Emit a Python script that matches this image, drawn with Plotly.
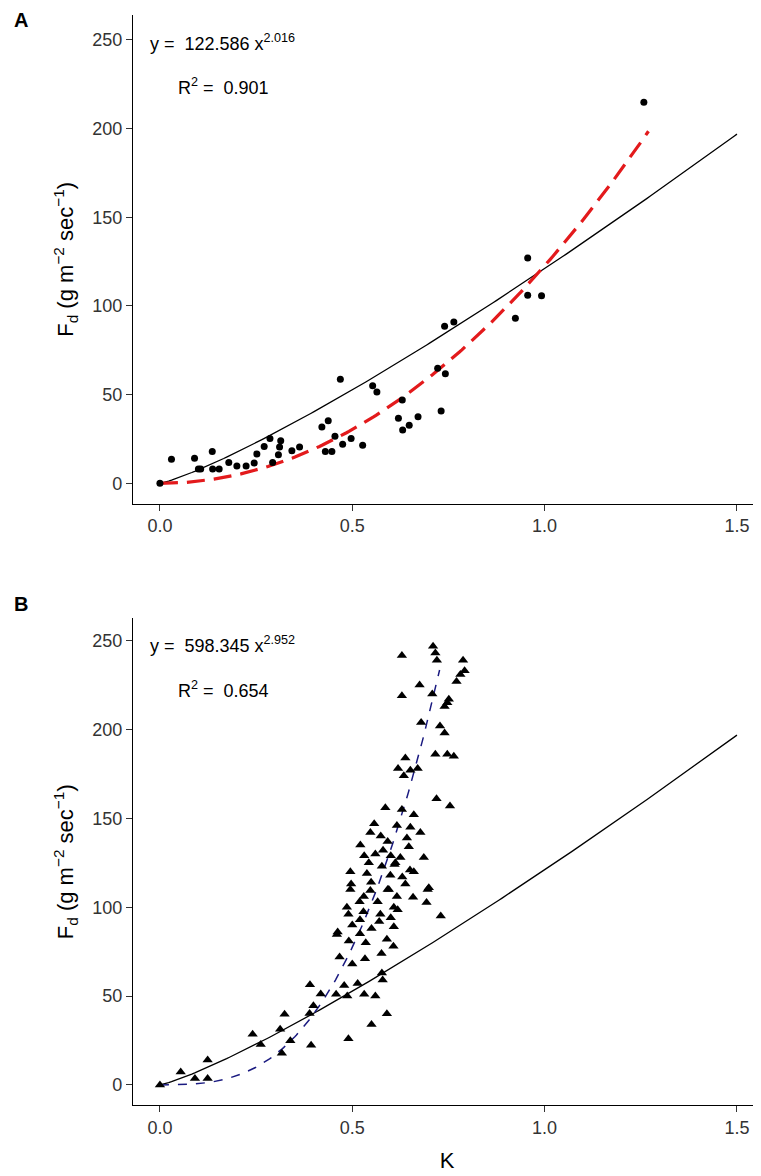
import numpy as np
import plotly.graph_objects as go
from plotly.subplots import make_subplots

# Panel A data
ka = [0,0.03,0.09,0.10,0.106,0.136,0.137,0.154,0.179,0.2,0.224,0.245,0.252,0.271,0.286,0.293,0.308,0.311,0.314,
      0.343,0.363,0.421,0.4375,0.43,0.447,0.455,0.469,0.475,0.497,0.527,0.553,0.564,0.62,0.63,0.631,0.648,0.671,
      0.722,0.731,0.742,0.74,0.764,0.924,0.956,0.956,0.992,1.258]
fa = [0,13.6,14.2,8.1,8.1,18,8.1,8.1,11.7,9.8,9.8,11.4,16.5,20.8,25.2,11.7,16.1,20.5,24,
      18.4,20.5,31.8,35.2,18,18,26.5,58.7,22,25.2,21.4,55,51.5,36.7,47,30,32.8,37.5,
      64.8,40.7,61.8,88.5,91,93,127,106,105.7,214.8]

# Panel B data
kb = [0,0.054,0.091,0.124,0.124,0.241,0.262,0.3125,0.324,0.339,0.317,0.39,0.389,0.393,0.399,0.418,0.46,0.462,0.467,
      0.479,0.458,0.49,0.487,0.491,0.5,0.514,0.531,0.533,0.55,0.56,0.577,0.579,0.59,0.576,0.59,0.607,0.535,0.486,
      0.519,0.529,0.566,0.595,0.616,0.618,0.658,0.693,0.696,0.547,0.495,0.573,0.608,0.608,
      0.629,0.710,0.716,0.72,0.788,0.792,0.781,0.771,0.675,0.629,0.708,0.751,0.747,0.74,0.679,0.728,0.74,0.716,0.747,
      0.764,0.638,0.619,0.670,0.634,0.651,0.719,0.754,0.586,0.629,0.66,0.557,0.616,0.651,0.677,0.547,0.574,0.592,
      0.642,0.521,0.647,0.531,0.6,0.625,0.686,0.543,0.577,0.612,0.495,0.538,0.599,0.66,0.497,0.549,0.638,0.699,0.592,
      0.73,0.5,0.52,0.55,0.57,0.6,0.63,0.65,0.56,0.58,0.61,0.53,0.49,0.52]
fb = [0,7.2,3.6,14,3.6,28.5,22.8,31.3,39.7,24.8,17.8,56.3,40.2,22.3,44.6,51.2,84.6,86,72,
      56,51,26,50,81,68,57,51,71,34,50,63,59,40,74,82,78,80,100,
      103,97.5,103,110,106,98.5,105.6,102.6,110,109.4,110,96,100,89,
      241.7,246.8,243,239,239,233,231,227,225,219,220,217,215,213,204,202,198,186,186,
      185,184,178,178,174,177,161,157,156,155,152,147,146,145,142,142,140,137,
      139,135,134,129,129,128,128,125,123,125,120,119,118,120,113,114,113,111,110,
      95,90,93,88,92,94,117,121,130,132,124,106,96,85]

# fitted curves (from equations shown on chart)
a_coef, a_exp = 122.586, 2.016
b_coef, b_exp = 598.345, 2.952
ref_coef, ref_exp = 121.0, 1.2

xa = np.linspace(0, 1.27, 200)
xb = np.linspace(0, 0.727, 200)
xr = np.linspace(0, 1.5, 200)

fig = make_subplots(rows=2, cols=1, vertical_spacing=0.105)
fig.add_trace(go.Scatter(x=xr, y=ref_coef*xr**ref_exp, mode="lines", line=dict(color="black", width=1.3)), 1, 1)
fig.add_trace(go.Scatter(x=xa, y=a_coef*xa**a_exp, mode="lines", line=dict(color="#e31a1c", width=3.2, dash="18px,9px")), 1, 1)
fig.add_trace(go.Scatter(x=ka, y=fa, mode="markers", marker=dict(color="black", size=7)), 1, 1)

fig.add_trace(go.Scatter(x=xr, y=ref_coef*xr**ref_exp, mode="lines", line=dict(color="black", width=1.3)), 2, 1)
fig.add_trace(go.Scatter(x=xb, y=b_coef*xb**b_exp, mode="lines", line=dict(color="#1a1a80", width=1.5, dash="dash")), 2, 1)
fig.add_trace(go.Scatter(x=kb, y=fb, mode="markers", marker=dict(color="black", size=9, symbol="triangle-up")), 2, 1)

ytitle = "F<sub>d</sub> (g m<sup>−2</sup> sec<sup>−1</sup>)"
axcommon = dict(showgrid=False, zeroline=False, showline=True, linecolor="black", linewidth=1.2,
                ticks="outside", ticklen=6, tickcolor="#333", tickfont=dict(size=18, color="#333"))
for r, yr, dom in [(1, [-11.4, 264], [0.5518, 1.0]), (2, [-11.3, 262.5], [0.0, 0.4464])]:
    fig.update_xaxes(range=[-0.07, 1.5625], tickvals=[0, 0.5, 1.0, 1.5], ticktext=["0.0", "0.5", "1.0", "1.5"],
                     row=r, col=1, **axcommon)
    fig.update_yaxes(range=yr, tickvals=[0, 50, 100, 150, 200, 250], domain=dom,
                     title=dict(text=ytitle, font=dict(size=22, color="black"), standoff=12),
                     row=r, col=1, **axcommon)
fig.update_xaxes(title=dict(text="K", font=dict(size=22, color="black")), row=2, col=1)

ann = [
    dict(x=12, y=20, text="<b>A</b>", size=20),
    dict(x=12, y=600, text="<b>B</b>", size=20),
    dict(x=148, y=42, text="y =  122.586 x<sup>2.016</sup>", size=18),
    dict(x=176, y=86, text="R<sup>2</sup> =  0.901", size=18),
    dict(x=148, y=640, text="y =  598.345 x<sup>2.952</sup>", size=18),
    dict(x=176, y=685, text="R<sup>2</sup> =  0.654", size=18),
]
for a in ann:
    fig.add_annotation(x=(a["x"]-133)/628, y=(1097-a["y"])/1082, xref="paper", yref="paper",
                       xanchor="left", yanchor="middle",
                       text=a["text"], showarrow=False, font=dict(size=a["size"], color="black"))

fig.update_layout(width=753, height=1168, margin=dict(l=125, r=0, t=7, b=71), showlegend=False,
                  plot_bgcolor="white", paper_bgcolor="white", font=dict(family="Arial, Liberation Sans"))
fig.write_html("out.html")
